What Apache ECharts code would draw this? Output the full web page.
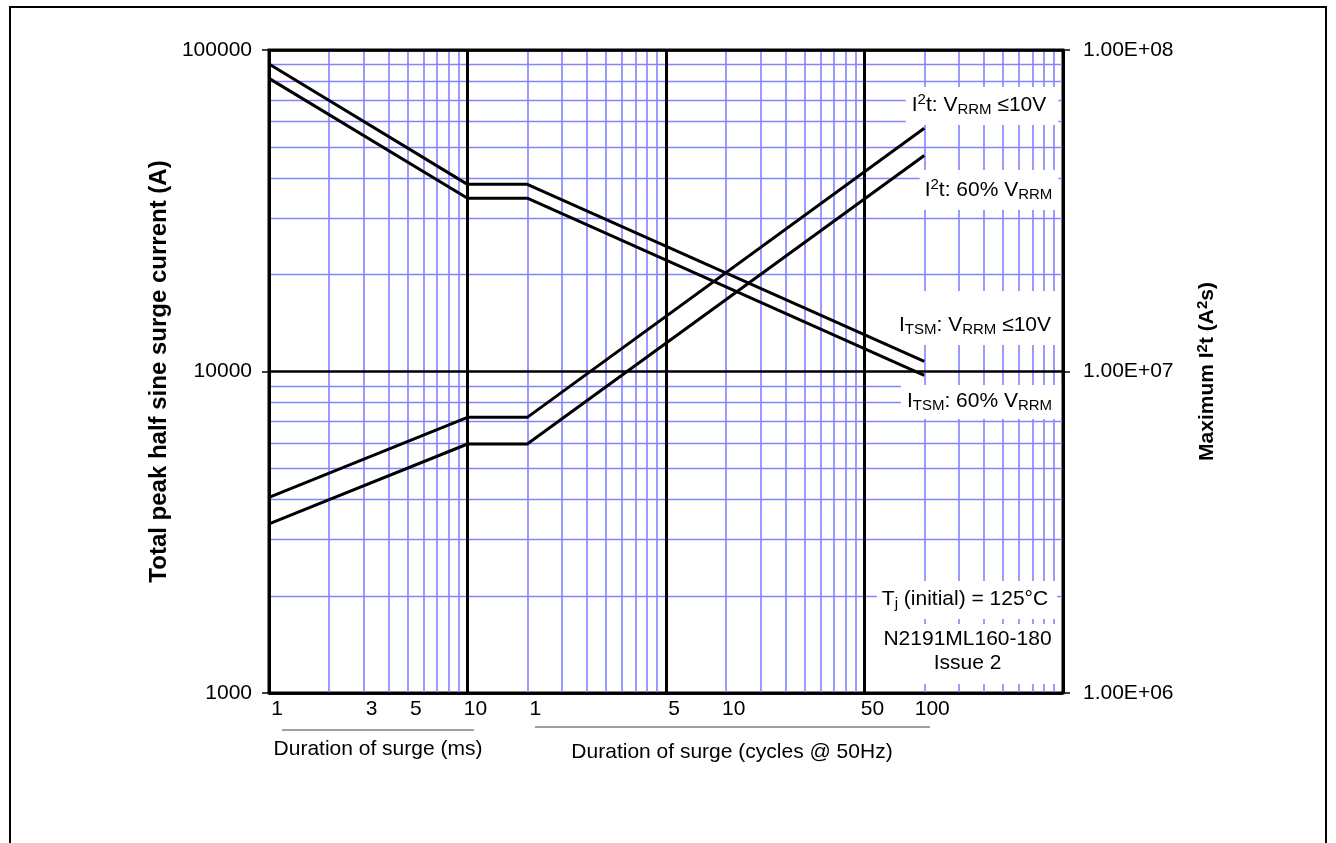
<!DOCTYPE html>
<html>
<head>
<meta charset="utf-8">
<title>Surge current and I2t rating</title>
<script src="https://cdn.jsdelivr.net/npm/echarts@6/dist/echarts.min.js"></script>
<style>
  html, body { margin: 0; padding: 0; background: #fff; }
  #main { width: 1336px; height: 843px; }
</style>
</head>
<body>
<div id="main"></div>
<script>
// duration of surge in ms (1 cycle @ 50Hz = 20 ms)
var durationMs = [1, 10, 20, 2000];
// ITSM (A), left axis
var itsmLowV = [90400, 38200, 38200, 10750];
var itsm60 = [81600, 34600, 34600, 9730];
// I2t (A2s), right axis
var i2tLowV = [4.06e6, 7.2e6, 7.2e6, 5.71e7];
var i2t60 = [3.36e6, 5.95e6, 5.95e6, 4.70e7];

// tick labels under the x axis: ms up to 10, then cycles (ms / 20)
var xLabelValues = [1, 3, 5, 10, 20, 100, 200, 1000, 2000];
var msPerCycle = 20;

var FONT = "'Liberation Sans', Arial, Helvetica, sans-serif";
var FS = 21;
var GRID_BLUE = '#8383ff';

// 2..9 in every decade, for the blue grid
function minorTicks(from, to) {
  var out = [];
  for (var d = from; d < to; d *= 10) {
    for (var k = 2; k <= 9; k++) out.push(k * d);
  }
  return out;
}

function pairs(xs, ys) {
  return xs.map(function (x, i) { return [x, ys[i]]; });
}

function sci(v) {
  var e = Math.round(Math.log10(v));
  var m = v / Math.pow(10, e);
  return m.toFixed(2) + 'E+' + (e < 10 ? '0' : '') + e;
}

var rich = {
  n: { fontSize: FS, fontFamily: FONT, fill: '#000', color: '#000' },
  sub: { fontSize: 15, fontFamily: FONT, fill: '#000', color: '#000', padding: [10, 0, 0, 0] },
  sup: { fontSize: 15, fontFamily: FONT, fill: '#000', color: '#000', padding: [0, 0, 10, 0] }
};

function note(text, x, y, pad) {
  return {
    type: 'text',
    x: x,
    y: y,
    z: 100,
    style: {
      text: text,
      rich: rich,
      fontSize: FS,
      fontFamily: FONT,
      fill: '#000',
      align: 'center',
      verticalAlign: 'middle',
      lineHeight: 24,
      backgroundColor: '#fff',
      padding: pad
    }
  };
}

var chart = echarts.init(document.getElementById('main'), null, { renderer: 'canvas' });

var lineStyle = { color: '#000', width: 3 };

var option = {
  animation: false,
  backgroundColor: '#fff',
  grid: {
    left: 269, right: 273, top: 50, bottom: 150,
    show: true, borderColor: '#000', borderWidth: 3, containLabel: false
  },
  xAxis: [
    { // decades, black lines
      type: 'log', logBase: 10, min: 1, max: 10000, z: 1,
      axisLine: { show: false }, axisTick: { show: false }, axisLabel: { show: false },
      splitLine: { show: true, lineStyle: { color: '#000', width: 3 } }
    },
    { // blue minor grid
      type: 'log', logBase: 10, min: 1, max: 10000, z: 0,
      axisLine: { show: false },
      axisTick: { show: false, customValues: minorTicks(1, 10000) },
      axisLabel: { show: false },
      splitLine: { show: true, lineStyle: { color: GRID_BLUE, width: 1.6 } }
    },
    { // label axis
      type: 'log', logBase: 10, min: 1, max: 10000, position: 'bottom',
      axisLine: { show: false }, axisTick: { show: false }, splitLine: { show: false },
      axisLabel: {
        show: true, customValues: xLabelValues, margin: 6,
        fontSize: FS, fontFamily: FONT, color: '#000', padding: [0, 0, 0, 16],
        formatter: function (v) { return v <= 10 ? String(Math.round(v)) : String(Math.round(v / msPerCycle)); }
      }
    }
  ],
  yAxis: [
    {
      type: 'log', logBase: 10, min: 1000, max: 100000, position: 'left', z: 1,
      axisLine: { show: false },
      axisTick: { show: true, inside: false, length: 7, lineStyle: { color: '#000', width: 1.5 } },
      axisLabel: { margin: 17, fontSize: FS, fontFamily: FONT, color: '#000',
        formatter: function (v) { return String(Math.round(v)); } },
      splitLine: { show: true, lineStyle: { color: '#000', width: 2.6 } },
      name: 'Total peak half sine surge current (A)',
      nameLocation: 'middle', nameRotate: 90, nameGap: 98,
      nameTextStyle: { fontSize: 24, fontWeight: 'bold', fontFamily: FONT, color: '#000' }
    },
    {
      type: 'log', logBase: 10, min: 1e6, max: 1e8, position: 'right',
      axisLine: { show: false },
      axisTick: { show: true, inside: false, length: 7, lineStyle: { color: '#000', width: 1.5 } },
      axisLabel: { margin: 20, fontSize: FS, fontFamily: FONT, color: '#000', formatter: sci },
      splitLine: { show: false },
      name: '{b|Maximum I}{bs|2}{b|t (A}{bs|2}{b|s)}',
      nameLocation: 'middle', nameRotate: 90, nameGap: 132,
      nameTextStyle: {
        fontSize: FS, fontWeight: 'bold', fontFamily: FONT, color: '#000',
        rich: {
          b: { fontSize: FS, fontWeight: 'bold', fontFamily: FONT, color: '#000' },
          bs: { fontSize: 15, fontWeight: 'bold', fontFamily: FONT, color: '#000', padding: [0, 0, 10, 0] }
        }
      }
    },
    {
      type: 'log', logBase: 10, min: 1000, max: 100000, position: 'left', z: 0,
      axisLine: { show: false },
      axisTick: { show: false, customValues: minorTicks(1000, 100000) },
      axisLabel: { show: false },
      splitLine: { show: true, lineStyle: { color: GRID_BLUE, width: 1.4 } }
    }
  ],
  series: [
    { name: 'ITSM VRRM<=10V', type: 'line', xAxisIndex: 0, yAxisIndex: 0, z: 5,
      showSymbol: false, symbol: 'none', lineStyle: lineStyle, data: pairs(durationMs, itsmLowV) },
    { name: 'ITSM 60% VRRM', type: 'line', xAxisIndex: 0, yAxisIndex: 0, z: 5,
      showSymbol: false, symbol: 'none', lineStyle: lineStyle, data: pairs(durationMs, itsm60) },
    { name: 'I2t VRRM<=10V', type: 'line', xAxisIndex: 0, yAxisIndex: 1, z: 5,
      showSymbol: false, symbol: 'none', lineStyle: lineStyle, data: pairs(durationMs, i2tLowV) },
    { name: 'I2t 60% VRRM', type: 'line', xAxisIndex: 0, yAxisIndex: 1, z: 5,
      showSymbol: false, symbol: 'none', lineStyle: lineStyle, data: pairs(durationMs, i2t60) }
  ],
  graphic: [
    // page frame
    { type: 'rect', z: 100, shape: { x: 10, y: 7, width: 1316, height: 900 },
      style: { fill: 'none', stroke: '#000', lineWidth: 2 } },
    note('{n|I}{sup|2}{n|t: V}{sub|RRM}{n| ≤10V}', 982, 106, [6, 12, 8, 6]),
    note('{n|I}{sup|2}{n|t: 60% V}{sub|RRM}', 989, 190, [8, 6, 8, 5]),
    note('{n|I}{sub|TSM}{n|: V}{sub|RRM}{n| ≤10V}', 977, 318, [22, 8, 8, 4]),
    note('{n|I}{sub|TSM}{n|: 60% V}{sub|RRM}', 981, 402, [4, 9, 6, 6]),
    note('{n|T}{sub|j}{n| (initial) = 125°C}', 967, 600, [6, 9, 8, 5]),
    note('{n|N2191ML160-180}\n{n|Issue 2}', 968, 654, [3, 7, 9, 6]),
    // x axis captions
    { type: 'line', z: 100, shape: { x1: 282, y1: 730, x2: 474, y2: 730 },
      style: { stroke: '#808080', lineWidth: 1.5 } },
    { type: 'line', z: 100, shape: { x1: 535, y1: 727, x2: 930, y2: 727 },
      style: { stroke: '#808080', lineWidth: 1.5 } },
    { type: 'text', z: 100, x: 378, y: 749,
      style: { text: 'Duration of surge (ms)', fontSize: FS, fontFamily: FONT, fill: '#000',
        align: 'center', verticalAlign: 'middle' } },
    { type: 'text', z: 100, x: 732, y: 752,
      style: { text: 'Duration of surge (cycles @ 50Hz)', fontSize: FS, fontFamily: FONT, fill: '#000',
        align: 'center', verticalAlign: 'middle' } }
  ]
};

chart.setOption(option);
</script>
</body>
</html>
